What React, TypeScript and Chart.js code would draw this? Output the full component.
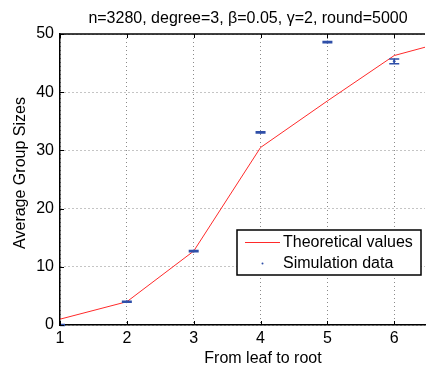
import React, { useEffect, useRef } from "react";
import { Chart, registerables } from "chart.js";

Chart.register(...registerables);

const levels = [1, 2, 3, 4, 5, 6, 7];
const theoretical = [1.0, 4.0, 12.7, 30.5, 38.5, 46.3, 49.4];
const simLevels = [1, 2, 3, 4, 5, 6];
const simMean = [0.0, 4.0, 12.7, 33.1, 48.6, 45.3];
const simErr = [0.08, 0.1, 0.1, 0.12, 0.12, 0.4];
const xTicks = [1, 2, 3, 4, 5, 6];
const yTicks = [0, 10, 20, 30, 40, 50];
const titleText = "n=3280, degree=3, \u03b2=0.05, \u03b3=2, round=5000";
const xTitle = "From leaf to root";
const yTitle = "Average Group Sizes";
const legendLabels = ["Theoretical values", "Simulation data"];

const FONT = "'Liberation Sans', Arial, Helvetica, sans-serif";
const RED = "#ff2a2a";
const BLUE = "#2f4fa8";

const extrasPlugin = {
  id: "extras",
  afterDatasetsDraw(chart: any) {
    const { ctx, chartArea, scales } = chart;
    const xs = scales.x;
    const ys = scales.y;
    ctx.save();
    // error bars
    ctx.beginPath();
    ctx.rect(chartArea.left, chartArea.top - 2, chartArea.right - chartArea.left, chartArea.bottom - chartArea.top + 4);
    ctx.clip();
    ctx.strokeStyle = BLUE;
    ctx.lineWidth = 1.5;
    simLevels.forEach((lv, i) => {
      const px = xs.getPixelForValue(lv);
      const top = ys.getPixelForValue(simMean[i] + simErr[i]);
      const bot = ys.getPixelForValue(simMean[i] - simErr[i]);
      const hw = 5;
      ctx.beginPath();
      ctx.moveTo(px, top);
      ctx.lineTo(px, bot);
      ctx.moveTo(px - hw, top);
      ctx.lineTo(px + hw, top);
      ctx.moveTo(px - hw, bot);
      ctx.lineTo(px + hw, bot);
      ctx.stroke();
    });
    ctx.restore();

    ctx.save();
    // top border
    ctx.strokeStyle = "#000";
    ctx.lineWidth = 1.5;
    ctx.beginPath();
    ctx.moveTo(chartArea.left, chartArea.top);
    ctx.lineTo(chartArea.right, chartArea.top);
    ctx.stroke();
    // inner tick marks
    ctx.lineWidth = 1;
    ctx.beginPath();
    xTicks.forEach((t) => {
      const px = Math.round(xs.getPixelForValue(t)) + 0.5;
      ctx.moveTo(px, chartArea.bottom);
      ctx.lineTo(px, chartArea.bottom - 4);
      ctx.moveTo(px, chartArea.top);
      ctx.lineTo(px, chartArea.top + 4);
    });
    yTicks.forEach((t) => {
      const py = Math.round(ys.getPixelForValue(t)) + 0.5;
      ctx.moveTo(chartArea.left, py);
      ctx.lineTo(chartArea.left + 4, py);
    });
    ctx.stroke();

    // legend
    const lx = 237, ly = 230, lw = 184, lh = 45;
    ctx.fillStyle = "#fff";
    ctx.fillRect(lx, ly, lw, lh);
    ctx.strokeStyle = "#000";
    ctx.lineWidth = 1.5;
    ctx.strokeRect(lx, ly, lw, lh);
    ctx.strokeStyle = RED;
    ctx.lineWidth = 1;
    ctx.beginPath();
    ctx.moveTo(lx + 8, ly + 12.5);
    ctx.lineTo(lx + 43, ly + 12.5);
    ctx.stroke();
    ctx.fillStyle = BLUE;
    ctx.beginPath();
    ctx.arc(lx + 25.5, ly + 33.5, 1, 0, Math.PI * 2);
    ctx.fill();
    ctx.fillStyle = "#000";
    ctx.font = "16px " + FONT;
    ctx.textBaseline = "middle";
    ctx.textAlign = "left";
    ctx.fillText(legendLabels[0], lx + 46, ly + 12.5);
    ctx.fillText(legendLabels[1], lx + 46, ly + 33.5);

    // title and axis titles
    ctx.textBaseline = "alphabetic";
    ctx.textAlign = "center";
    ctx.fillText(titleText, 248, 23);
    ctx.fillText(xTitle, 263, 362.5);
    ctx.translate(25, 173);
    ctx.rotate(-Math.PI / 2);
    ctx.fillText(yTitle, 0, 0);
    ctx.restore();
  },
};

export default function App() {
  const ref = useRef<HTMLCanvasElement>(null);
  useEffect(() => {
    document.body.style.margin = "0";
    const canvas = ref.current!;
    const chart = new Chart(canvas, {
      type: "scatter",
      data: {
        datasets: [
          {
            type: "line",
            label: legendLabels[0],
            data: levels.map((l, i) => ({ x: l, y: theoretical[i] })),
            borderColor: RED,
            borderWidth: 1,
            pointRadius: 0,
            fill: false,
            tension: 0,
          } as any,
          {
            type: "scatter",
            label: legendLabels[1],
            data: simLevels.map((l, i) => ({ x: l, y: simMean[i] })),
            backgroundColor: BLUE,
            borderColor: BLUE,
            pointRadius: 1,
          },
        ],
      },
      options: {
        responsive: false,
        animation: false,
        layout: { padding: { top: 34, left: 0, right: 0, bottom: 0 } },
        plugins: {
          legend: { display: false },
          tooltip: { enabled: false },
          title: { display: false },
        },
        scales: {
          x: {
            type: "linear",
            min: 1,
            max: 6.46,
            afterFit: (s: any) => { s.height = 44; },
            afterBuildTicks: (s: any) => { s.ticks = xTicks.map((v) => ({ value: v })); },
            ticks: { color: "#000", font: { family: FONT, size: 16 }, padding: 4 },
            grid: { color: "#8a8a8a", lineWidth: 1, drawTicks: false },
            border: { display: true, color: "#000", width: 1.5, dash: [1, 3] as any },
          },
          y: {
            type: "linear",
            min: 0,
            max: 50,
            afterFit: (s: any) => { s.width = 60; },
            afterBuildTicks: (s: any) => { s.ticks = yTicks.map((v) => ({ value: v })); },
            ticks: { color: "#000", font: { family: FONT, size: 16 }, padding: 6 },
            grid: { color: "#8a8a8a", lineWidth: 1, drawTicks: false },
            border: { display: true, color: "#000", width: 1.5, dash: [1, 3] as any },
          },
        },
      },
      plugins: [extrasPlugin],
    });
    return () => chart.destroy();
  }, []);
  return <canvas ref={ref} width={430} height={369} style={{ display: "block" }} />;
}
